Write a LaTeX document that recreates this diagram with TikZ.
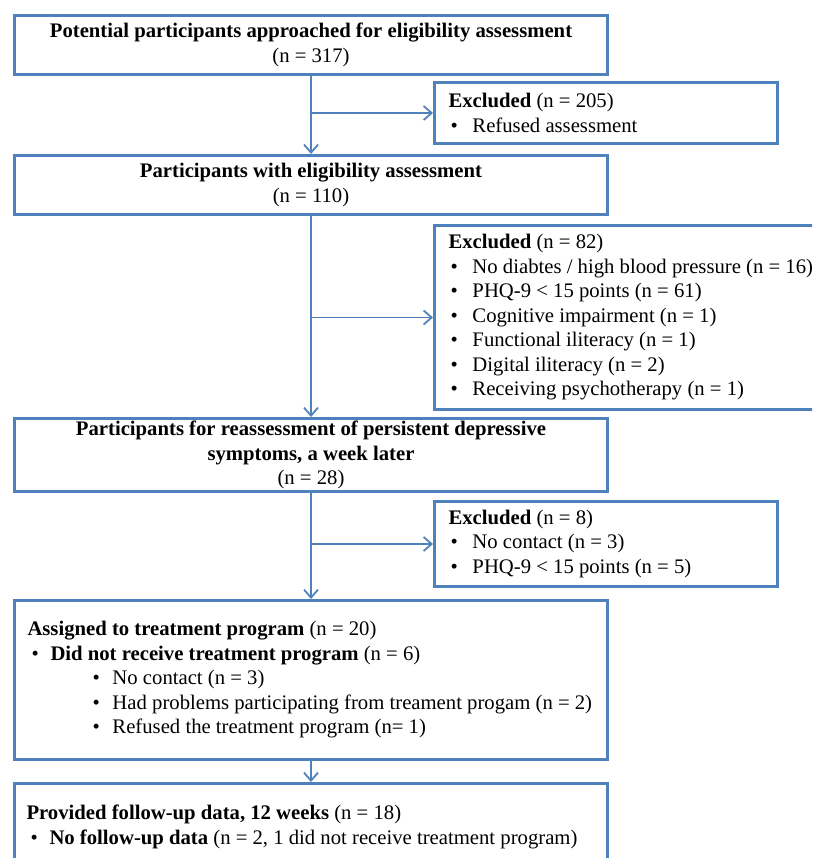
\documentclass[tikz,border=0pt]{standalone}
\usepackage{fontspec}
\setmainfont{Liberation Serif}
\usetikzlibrary{arrows.meta}
\definecolor{frameblue}{RGB}{79,129,189}
\newcommand{\bli}[3]{\mbox{\hspace*{#1}\makebox[#2][l]{•}#3}}
\newcommand{\fixsp}{\spaceskip=0pt\xspaceskip=0pt\relax}
\begin{document}
\begin{tikzpicture}[x=1pt,y=1pt,
  box/.style={draw=frameblue, line width=3pt, inner ysep=0pt, font=\fontsize{20.7}{24.5}\selectfont, anchor=north west},
  cbox/.style={box, align=center, inner xsep=0pt},
  lbox/.style={box, align=left},
  arr/.style={draw=frameblue, line width=1.8pt, -{Straight Barb[length=8pt,width=14pt]}}]
\path[use as bounding box, clip] (0,0) rectangle (812,-858);

\node[cbox, minimum width=593, minimum height=59] (b1) at (13,-14)
  {\textbf{Potential participants approached for eligibility assessment}\\(n = 317)};
\node[lbox, minimum width=343, minimum height=61, inner xsep=14pt, text width=315pt] (e1) at (433,-81)
  {\fixsp\mbox{\textbf{Excluded} (n = 205)}\\\bli{2pt}{22pt}{Refused assessment}};
\node[cbox, minimum width=593, minimum height=59] (b2) at (13,-154)
  {\textbf{Participants with eligibility assessment}\\(n = 110)};
\node[lbox, minimum width=400, minimum height=184, inner xsep=14pt, text width=372pt] (e2) at (433,-224)
  {\fixsp\mbox{\textbf{Excluded} (n = 82)}\\
   \bli{2pt}{22pt}{No diabtes / high blood pressure (n = 16)}\\
   \bli{2pt}{22pt}{PHQ-9 < 15 points (n = 61)}\\
   \bli{2pt}{22pt}{Cognitive impairment (n = 1)}\\
   \bli{2pt}{22pt}{Functional iliteracy (n = 1)}\\
   \bli{2pt}{22pt}{Digital iliteracy (n = 2)}\\
   \bli{2pt}{22pt}{Receiving psychotherapy (n = 1)}};
\node[cbox, minimum width=593, minimum height=73] (b3) at (13,-417)
  {\textbf{Participants for reassessment of persistent depressive}\\\textbf{symptoms, a week later}\\(n = 28)};
\node[lbox, minimum width=343, minimum height=85, inner xsep=14pt, text width=315pt] (e3) at (433,-500)
  {\fixsp\mbox{\textbf{Excluded} (n = 8)}\\
   \bli{2pt}{22pt}{No contact (n = 3)}\\
   \bli{2pt}{22pt}{PHQ-9 < 15 points (n = 5)}};
\node[lbox, minimum width=593, minimum height=159, inner xsep=13pt, text width=567pt] (b4) at (13,-599)
  {\fixsp\mbox{\textbf{Assigned to treatment program} (n = 20)}\\
   \bli{4pt}{19pt}{\textbf{Did not receive treatment program} (n = 6)}\\
   \bli{65pt}{20pt}{No contact (n = 3)}\\
   \bli{65pt}{20pt}{Had problems participating from treament progam (n = 2)}\\
   \bli{65pt}{20pt}{Refused the treatment program (n= 1)}};
\node[lbox, minimum width=593, minimum height=87, inner xsep=12pt, text width=569pt] (b5) at (13,-782)
  {\fixsp\mbox{\textbf{Provided follow-up data, 12 weeks} (n = 18)}\\
   \bli{4pt}{19pt}{\textbf{No follow-up data} (n = 2, 1 did not receive treatment program)}};

\draw[arr] (b1.south) -- (b2.north);
\draw[arr] (b2.south) -- (b3.north);
\draw[arr] (b3.south) -- (b4.north);
\draw[arr] (b4.south) -- (b5.north);
\coordinate (j1) at (b1.south |- e1.west);
\coordinate (j2) at (b2.south |- e2.west);
\coordinate (j3) at (b3.south |- e3.west);
\draw[arr] (j1) -- (e1.west);
\draw[arr] (j2) -- (e2.west);
\draw[arr] (j3) -- (e3.west);
\end{tikzpicture}
\end{document}
